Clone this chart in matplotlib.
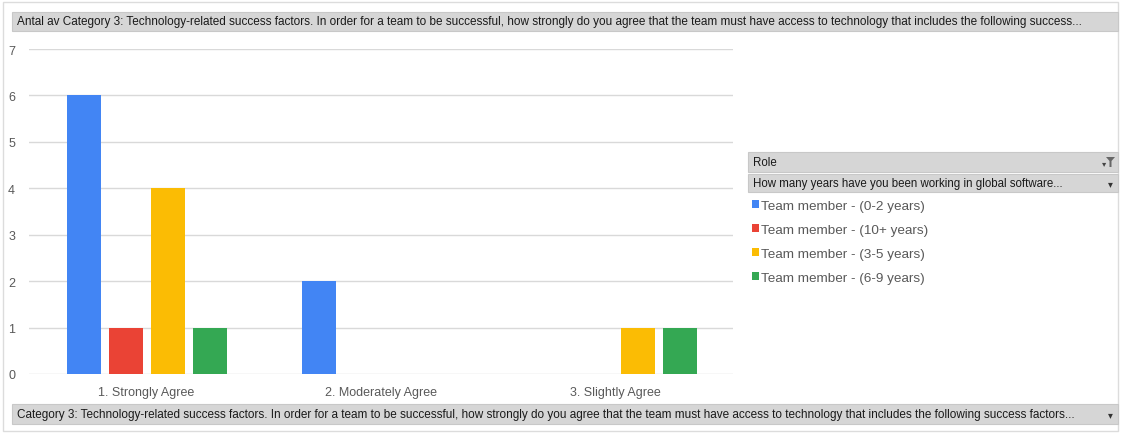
import matplotlib
matplotlib.use("Agg")
import matplotlib.pyplot as plt
from matplotlib.patches import Rectangle, Polygon
import numpy as np

plt.rcParams['font.family'] = ['Liberation Sans', 'DejaVu Sans']

categories = ["1. Strongly Agree", "2. Moderately Agree", "3. Slightly Agree"]
series_names = ["Team member - (0-2 years)", "Team member - (10+ years)",
                "Team member - (3-5 years)", "Team member - (6-9 years)"]
values_0_2 = [6, 2, 0]
values_10p = [1, 0, 0]
values_3_5 = [4, 0, 1]
values_6_9 = [1, 0, 1]
y_ticks = [0, 1, 2, 3, 4, 5, 6, 7]

title_text = ("Antal av Category 3: Technology-related success factors. In order for a team to be "
              "successful, how strongly do you agree that the team must have access to technology "
              "that includes the following success...")
axis_field_text = ("Category 3: Technology-related success factors. In order for a team to be "
                   "successful, how strongly do you agree that the team must have access to "
                   "technology that includes the following success factors...")
legend_header = "Role"
legend_field = "How many years have you been working in global software..."

colors = ["#4285F4", "#EA4335", "#FBBC04", "#34A853"]
text_gray = "#595959"
grid_gray = "#d9d9d9"

W, H = 1121, 435
fig = plt.figure(figsize=(W / 100, H / 100), dpi=100)
fig.patch.set_facecolor("white")

def fx(px):
    return px / W

def fy(py):
    return 1 - py / H

# outer frame
fig.patches.append(Rectangle((fx(3), fy(432)), fx(1115), 429 / H, transform=fig.transFigure,
                             fill=False, edgecolor="#dcdcdc", linewidth=1))

# field button bars
def field_bar(x0, y0, x1, y1, text, size, arrow=False, filt=False):
    fig.patches.append(Rectangle((fx(x0), fy(y1)), fx(x1 - x0), (y1 - y0) / H,
                                 transform=fig.transFigure, facecolor="#d6d6d6",
                                 edgecolor="#c8c8c8", linewidth=0.8))
    fig.text(fx(x0 + 5), fy((y0 + y1) / 2), text, fontsize=size, color="#1a1a1a",
             va="center", ha="left")
    if arrow:
        fig.text(fx(x1 - 8), fy((y0 + y1) / 2), "\u25be", fontsize=7, color="#333333",
                 va="center", ha="center", family="DejaVu Sans")
    if filt:
        cy = (y0 + y1) / 2
        fig.text(fx(x1 - 14), fy(cy + 1), "\u25be", fontsize=6, color="#444444",
                 va="center", ha="center", family="DejaVu Sans")
        fig.patches.append(Polygon([(fx(x1 - 12), fy(cy - 5)), (fx(x1 - 3), fy(cy - 5)),
                                    (fx(x1 - 6.5), fy(cy - 1)), (fx(x1 - 6.5), fy(cy + 5)),
                                    (fx(x1 - 8.5), fy(cy + 5)), (fx(x1 - 8.5), fy(cy - 1))],
                                   closed=True, transform=fig.transFigure,
                                   facecolor="#666666", edgecolor="none"))

field_bar(12, 13, 1118, 32, title_text, 8.5)
field_bar(12, 405, 1118, 425, axis_field_text, 8.5, arrow=True)
field_bar(748, 153, 1118, 173, legend_header, 8.3, filt=True)
field_bar(748, 175, 1118, 193, legend_field, 8.3, arrow=True)

# chart area
ax = fig.add_axes([fx(29), fy(375), fx(704), (375 - 50) / H])
x = np.arange(len(categories))
slot = 42 / 234.7
width = 34 / 234.7
series = [values_0_2, values_10p, values_3_5, values_6_9]
handles = []
for i, (vals, col) in enumerate(zip(series, colors)):
    b = ax.bar(x + (i - 1.5) * slot + 1 / 234.7, vals, width=width, color=col, zorder=3)
    handles.append(b)

ax.set_xlim(-0.5, len(categories) - 0.5)
ax.set_ylim(0, 7)
ax.set_yticks(y_ticks)
ax.set_xticks(x)
ax.set_xticklabels(categories)
ax.tick_params(axis="both", length=0, labelsize=9, colors=text_gray)
ax.tick_params(axis="y", pad=10)
ax.tick_params(axis="x", pad=9)
ax.grid(axis="y", color=grid_gray, linewidth=1, zorder=0)
for s in ax.spines.values():
    s.set_visible(False)

leg = fig.legend([h[0] for h in handles], series_names, loc="upper left",
                 bbox_to_anchor=(fx(752), fy(201)), frameon=False, fontsize=9.7,
                 handlelength=0.5, handleheight=0.5, handletextpad=0.15,
                 labelspacing=0.88, borderaxespad=0, borderpad=0)
for t in leg.get_texts():
    t.set_color(text_gray)

fig.savefig("out.png", dpi=100, facecolor="white")
